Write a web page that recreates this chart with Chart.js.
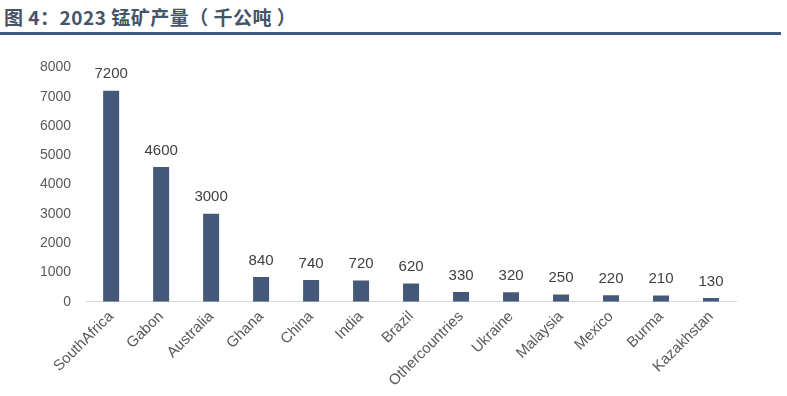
<!DOCTYPE html>
<html>
<head>
<meta charset="utf-8">
<script src="https://cdn.jsdelivr.net/npm/chart.js@4.4.1/dist/chart.umd.min.js"></script>
<style>
  body { margin: 0; background: #fff; width: 787px; height: 396px; overflow: hidden; position: relative; }
  .title { position: absolute; left: 4px; top: 3px; font: bold 19px "Noto Sans CJK SC", sans-serif; color: #44546a; letter-spacing: 0.5px; }
  .rule { position: absolute; left: 0; top: 32px; width: 781px; height: 3px; background: #3f5a82; }
  .wrap { position: absolute; left: 0; top: 44px; width: 787px; height: 352px; }
</style>
</head>
<body>
<div class="title">图 4：2023 锰矿产量（ 千公吨 ）</div>
<div class="rule"></div>
<div class="wrap"><canvas id="c"></canvas></div>
<script>
// 国家/地区
const countries = ['SouthAfrica', 'Gabon', 'Australia', 'Ghana', 'China', 'India', 'Brazil',
  'Othercountries', 'Ukraine', 'Malaysia', 'Mexico', 'Burma', 'Kazakhstan']
// 产量（千公吨）
const output = [7200, 4600, 3000, 840, 740, 720, 620, 330, 320, 250, 220, 210, 130]
// y 轴刻度
const yTicks = [0, 1000, 2000, 3000, 4000, 5000, 6000, 7000, 8000]

const FONT = 'Liberation Sans'

// 柱顶数值标签
const valueLabels = {
  id: 'valueLabels',
  afterDatasetsDraw(chart) {
    const { ctx } = chart
    const meta = chart.getDatasetMeta(0)
    ctx.save()
    ctx.font = `15px "${FONT}"`
    ctx.fillStyle = '#404040'
    ctx.textAlign = 'center'
    ctx.textBaseline = 'bottom'
    meta.data.forEach((bar, i) => {
      ctx.fillText(output[i], bar.x, bar.y - 9)
    })
    ctx.restore()
  },
}

new Chart(document.getElementById('c'), {
  type: 'bar',
  data: {
    labels: countries,
    datasets: [{
      data: output,
      backgroundColor: '#44587a',
      barPercentage: 0.64,
      categoryPercentage: 0.5,
    }],
  },
  options: {
    responsive: true,
    maintainAspectRatio: false,
    animation: false,
    layout: { padding: { left: 25, right: 51, top: 11, bottom: 0 } },
    plugins: { legend: { display: false }, tooltip: { enabled: false } },
    scales: {
      x: {
        grid: { display: false, drawTicks: false },
        border: { color: '#d9d9d9', width: 1 },
        ticks: {
          color: '#595959',
          font: { size: 15, family: FONT },
          maxRotation: 45,
          minRotation: 45,
          padding: 6,
          autoSkip: false,
        },
      },
      y: {
        min: 0,
        max: 8000,
        afterBuildTicks: axis => { axis.ticks = yTicks.map(v => ({ value: v })) },
        grid: { display: false, drawTicks: false },
        border: { display: false },
        ticks: {
          color: '#595959',
          font: { size: 14, family: FONT },
          padding: 15,
          callback: v => String(v),
        },
      },
    },
  },
  plugins: [valueLabels],
})
</script>
</body>
</html>
